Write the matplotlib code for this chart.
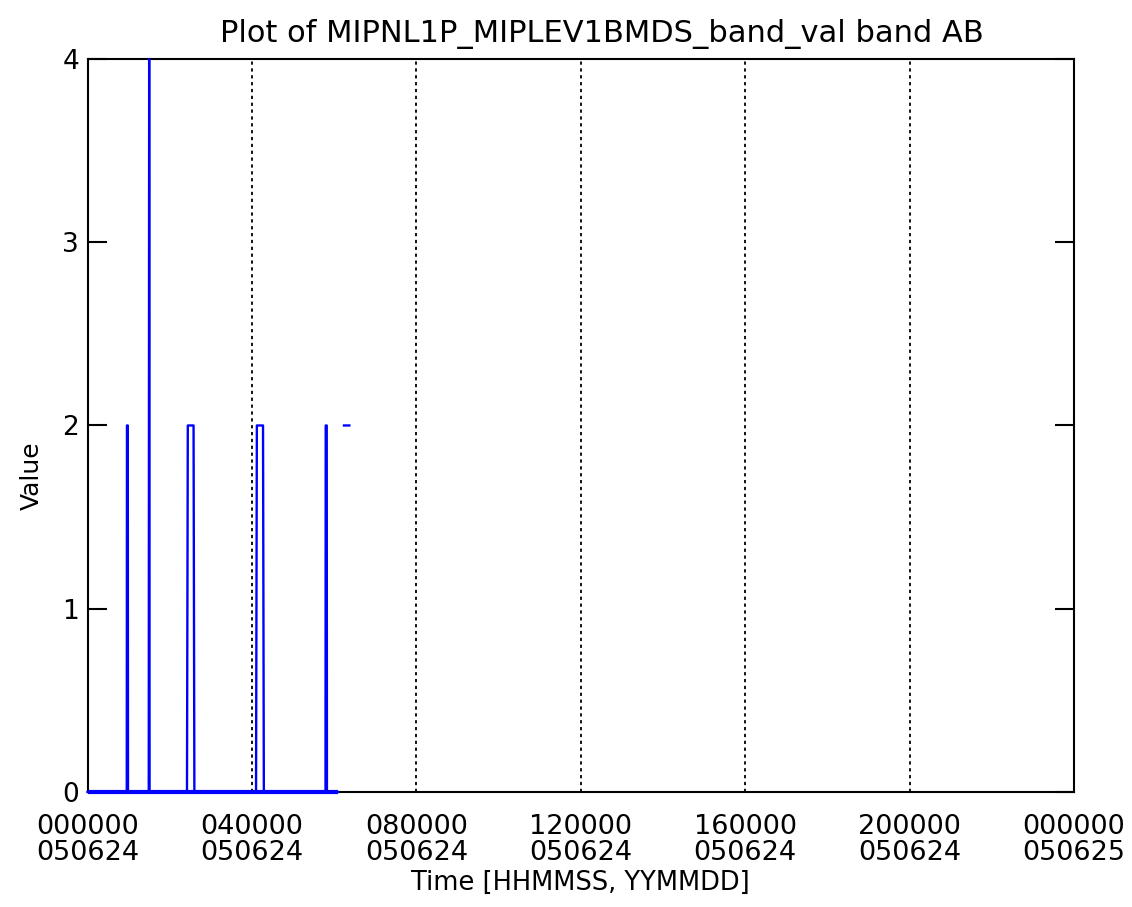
import numpy as np
import matplotlib
matplotlib.use('Agg')
import matplotlib.pyplot as plt

# band value vs time of day (hours since 000000 on 050624)
time_hr = [0.00, 0.955, 0.96, 0.98, 0.985, 1.49, 1.50, 1.51,
           2.42, 2.44, 2.58, 2.60, 4.10, 4.12, 4.27, 4.29,
           5.79, 5.795, 5.82, 5.825, 6.09, np.nan, 6.24, 6.37]
band_val = [0, 0, 2, 2, 0, 0, 4, 0,
            0, 2, 2, 0, 0, 2, 2, 0,
            0, 2, 2, 0, 0, np.nan, 2, 2]

tick_hr = [0, 4, 8, 12, 16, 20, 24]
tick_labels = ['000000\n050624', '040000\n050624', '080000\n050624',
               '120000\n050624', '160000\n050624', '200000\n050624',
               '000000\n050625']
grid_hr = [4, 8, 12, 16, 20]

fig = plt.figure(figsize=(11.32, 9.07), dpi=100)
ax = fig.add_axes([0.0773, 0.1268, 0.8715, 0.8082])

for h in grid_hr:
    ax.axvline(h, color='black', lw=1.3, dashes=(1.8, 2.0), zorder=1)

# baseline looks heavier in the original, draw it a bit thicker
ax.plot(time_hr, band_val, color='#0000ff', lw=1.7, zorder=3, clip_on=False)
ax.plot(time_hr[:21], [0] * 21, color='#0000ff', lw=3.0, zorder=3,
        clip_on=False, solid_capstyle='butt')

ax.set_xlim(0, 24)
ax.set_ylim(0, 4)
ax.set_xticks(tick_hr)
ax.set_xticklabels(tick_labels, fontsize=19.5)
for lbl in ax.get_xticklabels():
    lbl.set_linespacing(0.98)
ax.set_yticks([0, 1, 2, 3, 4])
ax.tick_params(axis='x', length=0, pad=16)
ax.tick_params(axis='y', direction='in', length=14, width=1.5,
               right=True, labelsize=19, pad=6)
for sp in ax.spines.values():
    sp.set_linewidth(1.5)
    sp.set_zorder(2)

ax.set_xlabel('Time [HHMMSS, YYMMDD]', fontsize=18.5, labelpad=3)
fig.text(0.028, 0.475, 'Value', rotation=90, fontsize=18,
         ha='center', va='center')
fig.text(0.532, 0.962, 'Plot of MIPNL1P_MIPLEV1BMDS_band_val band AB',
         fontsize=22, ha='center', va='center')

fig.savefig('out.png', dpi=100)
